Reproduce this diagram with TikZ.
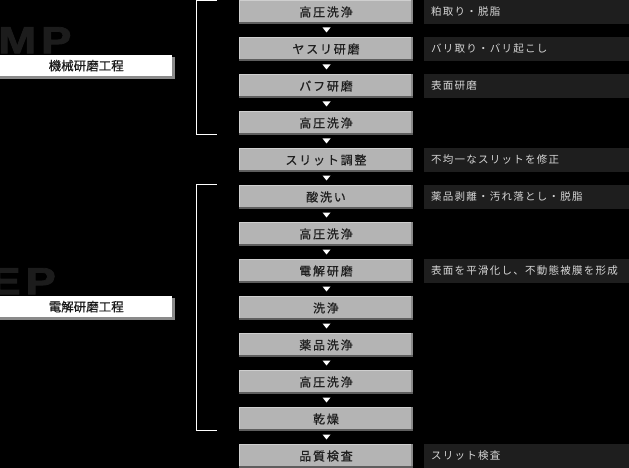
\documentclass[tikz,border=0pt]{standalone}
\usepackage{fontspec}
\usepackage{tikz}
\usetikzlibrary{positioning, calc}

\newfontfamily\stepfont[LetterSpace=15, FakeBold=0.6]{Noto Sans CJK JP}
\newfontfamily\notefont[LetterSpace=12]{Noto Sans CJK JP}
\newfontfamily\groupfont[FakeBold=0.5]{Noto Sans CJK JP}
\newfontfamily\bigfont[FakeBold=2]{Liberation Sans}

\definecolor{boxgray}{HTML}{B4B4B4}
\definecolor{boxlight}{HTML}{CFCFCF}
\definecolor{boxshade}{HTML}{8A8A8A}
\definecolor{boxdark}{HTML}{5E5E5E}
\definecolor{notebg}{HTML}{1E1E1E}
\definecolor{notetext}{HTML}{D6D6D6}
\definecolor{bigletter}{HTML}{1C1C1C}

\tikzset{
  stepbox/.style={fill=boxgray, minimum width=174pt, minimum height=24pt, inner sep=0pt,
    text=black!88, font=\stepfont\fontsize{12}{12}\selectfont,
    path picture={
      \fill[boxlight] (path picture bounding box.north west) rectangle ([yshift=-1pt]path picture bounding box.north east);
      \fill[boxlight] (path picture bounding box.north west) rectangle ([xshift=1pt]path picture bounding box.south west);
      \fill[boxshade] ([xshift=-2pt]path picture bounding box.north east) rectangle (path picture bounding box.south east);
      \fill[boxdark] ([yshift=2pt]path picture bounding box.south west) rectangle (path picture bounding box.south east);
    }},
  notebox/.style={fill=notebg, minimum width=205pt, minimum height=24pt, inner sep=0pt},
  notelabel/.style={text=notetext, inner sep=0pt, font=\notefont\fontsize{10.5}{10.5}\selectfont},
  groupbox/.style={fill=white, minimum width=172pt, minimum height=21pt, inner sep=0pt,
    text=black!90, font=\groupfont\fontsize{12.5}{12.5}\selectfont},
  groupshadow/.style={fill=boxshade, minimum width=175pt, minimum height=22pt, inner sep=0pt},
  bigtag/.style={text=bigletter, inner sep=0pt, font=\bigfont\bfseries\fontsize{38}{38}\selectfont, xscale=1.2},
  bracket/.style={draw=white, line width=1pt},
}

\begin{document}
\begin{tikzpicture}[x=1pt, y=-1pt]
  \fill[black] (0,0) rectangle (629,468);
  \useasboundingbox (0,0) rectangle (629,468);

  % big letters behind the group labels
  \node[bigtag, anchor=north west] (mp) at (-2,27) {M\kern4pt P};
  \node[bigtag, anchor=north west] (ep) at (-10,268) {E\kern4pt P};

  % group labels
  \node[groupshadow, anchor=north west] (mpshadow) at (0,57) {};
  \node[groupbox, anchor=north west] (mpgroup) at (0,55) {機械研磨工程};
  \node[groupshadow, anchor=north west] (epshadow) at (0,298) {};
  \node[groupbox, anchor=north west] (epgroup) at (0,296) {電解研磨工程};

  % process steps
  \foreach \t [count=\i from 0] in {高圧洗浄, ヤスリ研磨, バフ研磨, 高圧洗浄, スリット調整, 酸洗い,
      高圧洗浄, 電解研磨, 洗浄, 薬品洗浄, 高圧洗浄, 乾燥, 品質検査}
    \node[stepbox] (s\i) at (326, 37*\i+12) {\t};

  \foreach \i [evaluate=\i as \j using int(\i+1)] in {0,...,11}
    \fill[white] ($(s\i.south)!0.5!(s\j.north)$) ++(-3.5,-3) -- ++(8,0) -- ++(-4,5) -- cycle;

  % notes on the right
  \foreach \i/\t in {0/粕取り・脱脂, 1/バリ取り・バリ起こし, 2/表面研磨, 4/不均一なスリットを修正,
      5/薬品剥離・汚れ落とし・脱脂, 7/表面を平滑化し、不動態被膜を形成, 12/スリット検査} {
    \node[notebox] (d\i) at (526.5, 37*\i+12) {};
    \node[notelabel, right=7pt of d\i.west] (n\i) {\t};
  }

  % brackets
  \draw[bracket] ([xshift=-22pt, yshift=-1pt]s0.north west) -- ++(-20,0) |- ([xshift=-22pt, yshift=1pt]s3.south west);
  \draw[bracket] ([xshift=-22pt]s5.north west) -- ++(-20,0) |- ([xshift=-22pt, yshift=1pt]s11.south west);
\end{tikzpicture}
\end{document}
